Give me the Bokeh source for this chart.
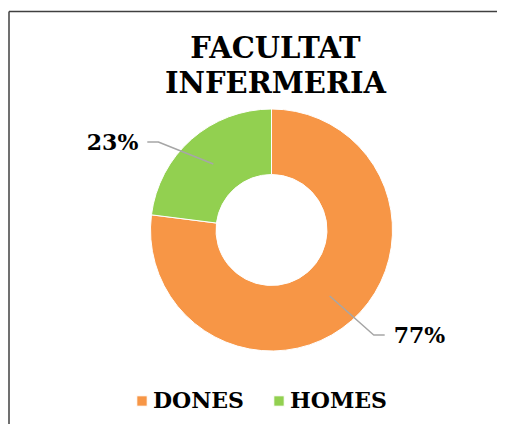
import math
from bokeh.plotting import figure
from bokeh.models import Range1d, ColumnDataSource, Legend, LegendItem
from bokeh.core.properties import value
from bokeh.embed import file_html
from bokeh.resources import INLINE

# ---- data ----
title_lines = ["FACULTAT", "INFERMERIA"]
categories = ["DONES", "HOMES"]
values = [77, 23]
colors = ["#F79646", "#92D050"]

W, H = 497, 424
def Y(py):
    return H - py

p = figure(width=W, height=H, output_backend="svg", toolbar_location=None,
           x_range=Range1d(0, W), y_range=Range1d(0, H),
           min_border=0, outline_line_color=None)
p.xaxis.visible = False
p.yaxis.visible = False
p.xgrid.visible = False
p.ygrid.visible = False
p.background_fill_color = "white"
p.border_fill_color = "white"

# chart border (top and left visible)
p.segment(x0=[8.5, 8.5], y0=[Y(11), Y(11)], x1=[8.5, W], y1=[0, Y(11)],
          line_color="#404040", line_width=1.5)

# ---- donut ----
cx, cy = 271, Y(229.5)
r_out, r_in = 121, 55.5
total = sum(values)
starts, ends, mids = [], [], []
acc = 0.0
for v in values:
    a0 = math.pi / 2 - 2 * math.pi * acc / total
    a1 = math.pi / 2 - 2 * math.pi * (acc + v) / total
    starts.append(a0)
    ends.append(a1)
    mids.append((a0 + a1) / 2)
    acc += v

src = ColumnDataSource(dict(start=starts, end=ends, color=colors, label=categories))
wedges = p.annular_wedge(x=cx, y=cy, inner_radius=r_in, outer_radius=r_out,
                         start_angle="start", end_angle="end", direction="clock",
                         fill_color="color", line_color="white", line_width=1,
                         source=src)

# ---- leader lines and percentage labels ----
pct_labels = [f"{round(100 * v / total)}%" for v in values]
# elbow offsets (pixels) of each leader line from its anchor on the ring
elbow_offsets = [(44, -39), (-55, 22)]
for m, lab, (ox, oy) in zip(mids, pct_labels, elbow_offsets):
    x0 = cx + 88 * math.cos(m)
    y0 = cy + 88 * math.sin(m)
    x1, y1 = x0 + ox, y0 + oy
    side = 1 if ox >= 0 else -1
    x2 = x1 + side * 11
    p.line(x=[x0, x1, x2], y=[y0, y1, y1], line_color="#A6A6A6", line_width=1.5)
    p.text(x=[x2 + side * 9], y=[y1], text=[lab],
           text_font=value("DejaVu Serif"), text_font_style="bold",
           text_font_size="22px", text_color="black",
           text_align="left" if side > 0 else "right", text_baseline="middle")

# ---- title ----
p.text(x=[275, 275], y=[Y(47), Y(82)], text=title_lines,
       text_font=value("DejaVu Serif"), text_font_style="bold",
       text_font_size="29px", text_color="black",
       text_align="center", text_baseline="middle")

# ---- legend ----
legend = Legend(items=[LegendItem(label=categories[i], renderers=[wedges], index=i)
                       for i in range(len(categories))],
                orientation="horizontal", location=(135, 11),
                glyph_width=13, glyph_height=13, label_standoff=5, spacing=28,
                label_text_font="DejaVu Serif", label_text_font_style="bold",
                label_text_font_size="22px", label_text_color="black",
                border_line_color=None, background_fill_alpha=0,
                padding=0, margin=0)
p.add_layout(legend, "center")

open("out.html", "w").write(file_html(p, INLINE))
